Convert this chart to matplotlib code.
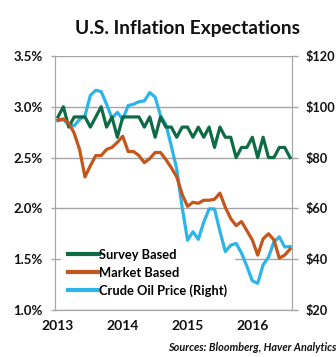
import matplotlib.pyplot as plt
import numpy as np

# monthly, Jan 2013 .. Aug 2016
survey = [2.9, 3.0, 2.8, 2.9, 2.9, 2.9, 2.8, 2.9, 3.0, 2.8, 2.9, 2.7,
          2.9, 2.9, 2.9, 2.9, 2.8, 2.9, 2.7, 2.9, 2.8, 2.8, 2.7, 2.8,
          2.8, 2.7, 2.8, 2.7, 2.8, 2.6, 2.8, 2.7, 2.7, 2.5, 2.6, 2.6,
          2.7, 2.5, 2.7, 2.5, 2.5, 2.6, 2.6, 2.5]
market = [2.87, 2.88, 2.84, 2.74, 2.58, 2.31, 2.42, 2.52, 2.52, 2.58, 2.60, 2.65,
          2.71, 2.56, 2.56, 2.52, 2.45, 2.49, 2.55, 2.55, 2.48, 2.40, 2.31, 2.14,
          2.02, 2.06, 2.05, 2.08, 2.08, 2.09, 2.15, 2.01, 1.90, 1.83, 1.87, 1.78,
          1.69, 1.54, 1.70, 1.75, 1.69, 1.51, 1.54, 1.60]
oil = [94.5, 95.0, 93.0, 92.5, 95.0, 96.5, 104.5, 106.5, 106.0, 101.0, 95.5, 97.8,
       95.0, 100.5, 101.0, 102.0, 102.3, 105.6, 103.8, 96.5, 93.0, 84.5, 75.5, 60.5,
       47.5, 50.8, 47.8, 54.5, 59.8, 59.8, 51.0, 43.0, 45.5, 46.2, 42.4, 37.2,
       31.5, 30.5, 37.8, 40.8, 46.8, 48.8, 44.8, 45.0]
year_labels = ['2013', '2014', '2015', '2016']

green = '#0E6B46'
orange = '#C4561C'
blue = '#2DB4E8'
grid_c = '#A6A6A6'

plt.rcParams['font.family'] = ['Lato', 'DejaVu Sans']

x = np.arange(len(survey))

fig = plt.figure(figsize=(3.36, 3.57), dpi=100)
ax1 = fig.add_axes([0.1637, 0.1317, 0.7053, 0.7115])
ax2 = ax1.twinx()

# left-axis series on top, oil + grid + legend underneath
ax1.set_zorder(ax2.get_zorder() + 1)
ax1.patch.set_visible(False)

ax1.set_ylim(1.0, 3.5)
ax1.set_yticks(np.arange(1.0, 3.51, 0.5))
ax1.set_yticklabels([f'{v:.1f}%' for v in np.arange(1.0, 3.51, 0.5)])
ax2.set_ylim(20, 120)
ax2.set_yticks(np.arange(20, 121, 20))
ax2.set_yticklabels([f'${v}' for v in range(20, 121, 20)])
ax1.set_xlim(-0.55, 43.35)
ax1.set_xticks([0, 12, 24, 36])
ax1.set_xticklabels(year_labels)

ax2.grid(axis='y', color=grid_c, linewidth=1)
ax2.set_axisbelow(True)

ax2.plot(x, oil, color=blue, linewidth=2.3, label='Crude Oil Price (Right)', zorder=6)
ax1.plot(x, survey, color=green, linewidth=2.3, label='Survey Based')
ax1.plot(x, market, color=orange, linewidth=2.3, label='Market Based')

for a in (ax1, ax2):
    for s in a.spines.values():
        s.set_color(grid_c)
    a.spines['top'].set_visible(False)
    a.tick_params(colors=grid_c, labelcolor='#111111', labelsize=9.5, length=3, width=1)
ax1.tick_params(axis='x', length=0, pad=7, labelsize=10)
ax1.tick_params(axis='y', pad=6)
ax2.tick_params(axis='y', pad=6, length=4, labelsize=9.2)
for lab in ax1.get_xticklabels() + ax1.get_yticklabels() + ax2.get_yticklabels():
    lab.set_fontweight('bold')

h1, l1 = ax1.get_legend_handles_labels()
h2, l2 = ax2.get_legend_handles_labels()
leg = ax2.legend(h1 + h2, l1 + l2, loc='lower left', bbox_to_anchor=(0.0, 0.0),
                 frameon=True, fancybox=False, edgecolor='white', framealpha=1,
                 handlelength=2.4, handletextpad=0.0, labelspacing=0.45,
                 borderpad=0.5, prop={'size': 9.3, 'weight': 'bold'})
leg.set_zorder(5)
for line in leg.get_lines():
    line.set_linewidth(3)

fig.text(0.557, 0.92, 'U.S. Inflation Expectations', ha='center', va='center',
         fontsize=13.8, fontweight='bold', color='#111111')
fig.text(1.0, 0.028, 'Sources: Bloomberg, Haver Analytics', ha='right', va='center',
         fontsize=7.8, fontweight='bold', fontstyle='italic', color='#111111')

fig.savefig('out.png', dpi=100)
